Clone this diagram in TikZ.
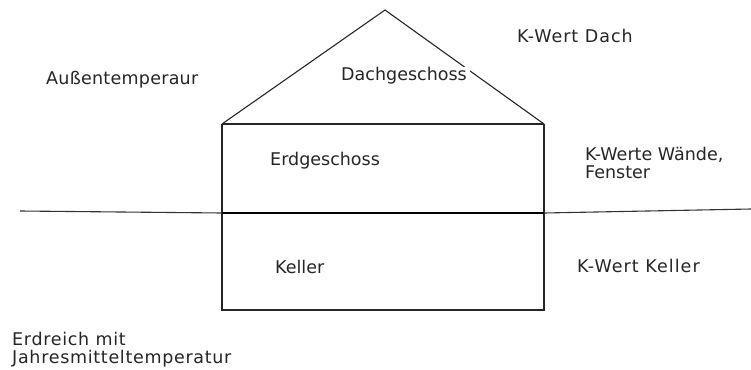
\documentclass[tikz,border=0pt]{standalone}
\usepackage{fontspec}
\setmainfont{DejaVu Sans}
\begin{document}
\begin{tikzpicture}[x=1pt,y=-1pt,
  wall/.style={draw=black!85,line width=1.1pt},
  floor/.style={draw=black,line width=2.6pt},
  ground/.style={draw=black!80,line width=1.1pt},
  lbl/.style={font=\fontsize{17.5}{18}\selectfont,inner sep=0pt,text=black!85},
  lblw/.style={lbl,anchor=west,align=left},
  wide/.style={font=\fontsize{17.5}{18}\selectfont\addfontfeature{LetterSpace=#1}}]
\useasboundingbox[fill=white] (0,0) rectangle (751,369);
% house corners
\coordinate (apex) at (385,10);
\coordinate (rl) at (222,124);
\coordinate (rr) at (544,124);
\coordinate (ml) at (222,213);
\coordinate (mr) at (544,213);
\coordinate (bl) at (222,310);
\coordinate (br) at (544,310);
\coordinate (gl) at (20,211);
\coordinate (gr) at (751,209);
% roof
\draw[wall] (rl) -- (apex) -- (rr);
% walls
\draw[wall] (rl) -- (rr);
\draw[wall] (rl) -- (bl) -- (br) -- (rr);
% ground line
\draw[ground] (gl) -- (ml);
\draw[ground] (mr) -- (gr);
\draw[floor] (ml) -- (mr);
% labels
\node[lbl,fill=white,inner xsep=3pt,inner ysep=1pt] (dg) at (404,76) {Dachgeschoss};
\node[lblw,wide=1.5] (aussen) at (46,80) {Außentemperaur};
\node[lblw,wide=5.5] (kdach) at (517,36) {K-Wert Dach};
\node[lblw] (eg) at (270,161) {Erdgeschoss};
\node[lblw] (kwand) at (585,163) {K-Werte Wände,\\Fenster};
\node[lblw] (keller) at (275,267) {Keller};
\node[lblw,wide=6] (kkeller) at (577,266) {K-Wert Keller};
\node[lblw,wide=4] (erd) at (12,350) {Erdreich mit\\Jahresmitteltemperatur};
\end{tikzpicture}
\end{document}
